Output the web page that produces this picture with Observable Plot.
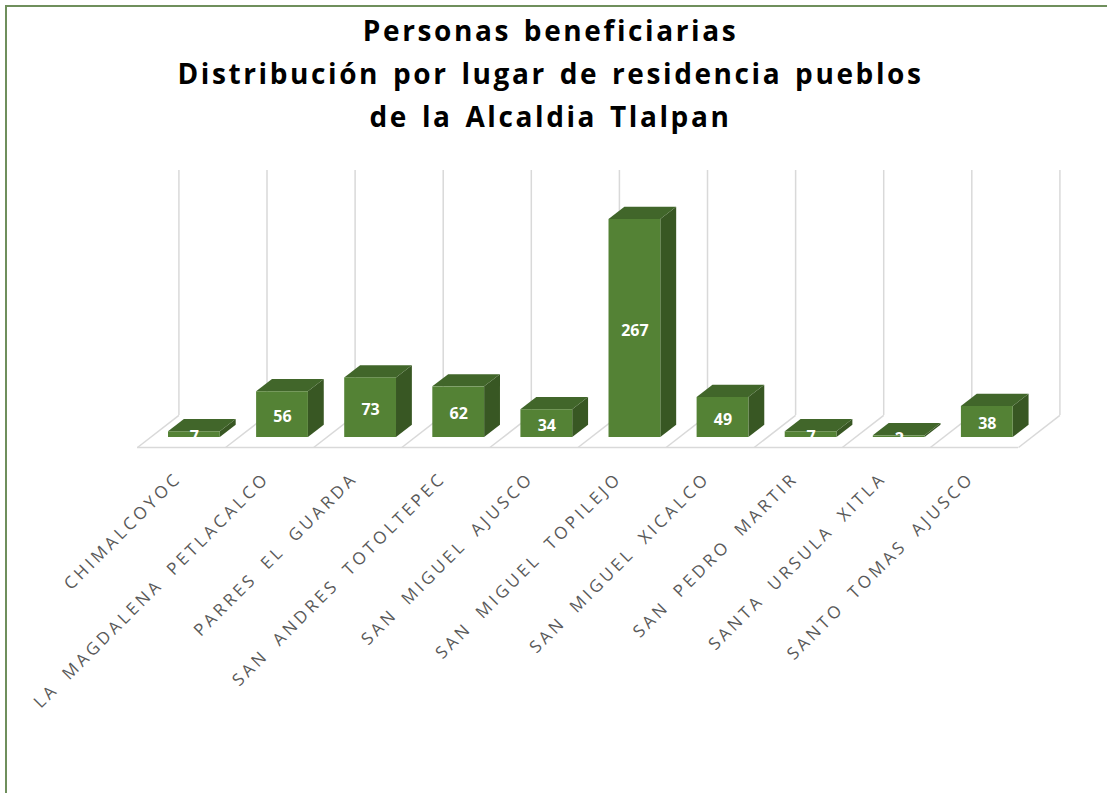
<!DOCTYPE html>
<html lang="es">
<head>
<meta charset="utf-8">
<script src="https://cdn.jsdelivr.net/npm/d3@7"></script>
<script src="https://cdn.jsdelivr.net/npm/@observablehq/plot@0.6"></script>
<style>
  html, body { margin: 0; padding: 0; background: #fff; overflow: hidden; width: 1107px; height: 793px; }
  #frame { position: absolute; left: 5px; top: 5px; width: 1110px; height: 800px; border: 2px solid #6f8f5c; box-sizing: border-box; }
  #title { position: absolute; left: -3px; top: 0; width: 1107px; height: 150px; text-align: center; font: 700 28px/43px "Open Sans", sans-serif; letter-spacing: 2.6px; word-spacing: 3px; color: #000; padding-top: 9px; box-sizing: border-box; }
  #chart { position: absolute; left: 0; top: 150px; }
  #chart svg { background: transparent; }
  #chart svg > g:last-of-type text { font-size: 17px; letter-spacing: 3.4px; word-spacing: 6px; }
</style>
</head>
<body>
<div id="frame"></div>
<div id="title">Personas beneficiarias<br>Distribución por lugar de residencia pueblos<br>de la Alcaldia Tlalpan</div>
<div id="chart"></div>
<script>
const categories = ["CHIMALCOYOC","LA MAGDALENA PETLACALCO","PARRES EL GUARDA","SAN ANDRES TOTOLTEPEC","SAN MIGUEL AJUSCO","SAN MIGUEL TOPILEJO","SAN MIGUEL XICALCO","SAN PEDRO MARTIR","SANTA URSULA XITLA","SANTO TOMAS AJUSCO"];
const values = [7,56,73,62,34,267,49,7,2,38];

// Pseudo-3D depth, expressed in scale units
const barStart = 0.352, barEnd = 0.94, barDepthX = 0.18, barDepthY = 15;
const floorFront = -12.25, floorBack = 27, wallTop = 327, floorDepthX = 0.47;

const rows = values.map((v, i) => ({name: categories[i], i, v}));
const edges = d3.range(categories.length + 1);

const topFace = rows.flatMap(d => [0, 1].map(t => ({
  name: d.name,
  y: d.v + t * barDepthY,
  x1: d.i + barStart + t * barDepthX,
  x2: d.i + barEnd + t * barDepthX
})));
const sideFace = rows.flatMap(d => [0, 1].map(t => ({
  name: d.name,
  x: d.i + barEnd + t * barDepthX,
  y1: t * barDepthY,
  y2: d.v + t * barDepthY
})));

const grid = "#d9d9d9";
const chart = Plot.plot({
  width: 1107, height: 643,
  marginLeft: 137, marginRight: 89, marginTop: 20, marginBottom: 346,
  x: {domain: [0, categories.length]},
  y: {domain: [floorFront, wallTop], axis: null},
  style: {fontFamily: "'Open Sans', sans-serif", background: "transparent", overflow: "visible"},
  marks: [
    Plot.ruleX(edges, {x: d => d + floorDepthX, y1: floorBack, y2: wallTop, stroke: grid, strokeWidth: 1.5}),
    Plot.link(edges, {x1: d => d, y1: floorFront, x2: d => d + floorDepthX, y2: floorBack, stroke: grid, strokeWidth: 1.5}),
    Plot.ruleY([floorFront], {x1: 0, x2: categories.length, stroke: grid, strokeWidth: 1.5}),
    Plot.areaY(sideFace, {x: "x", y1: "y1", y2: "y2", z: "name", fill: "#385723"}),
    Plot.areaX(topFace, {y: "y", x1: "x1", x2: "x2", z: "name", fill: "#41662a"}),
    Plot.rect(rows, {x1: d => d.i + barStart, x2: d => d.i + barEnd, y1: 0, y2: "v", fill: "#548235"}),
    Plot.text(rows, {x: d => d.i + (barStart + barEnd) / 2, y: d => d.v / 2, text: d => String(d.v), fill: "#fff", fontSize: 16, fontWeight: 700, dy: 2}),
    Plot.axisX({
      ticks: categories.map((_, i) => i + 0.5),
      tickFormat: d => categories[Math.floor(d)],
      tickRotate: -45, tickSize: 0, tickPadding: 28, dx: -3, label: null,
      fill: "#595959"
    })
  ]
});
document.getElementById("chart").appendChild(chart);
</script>
</body>
</html>
